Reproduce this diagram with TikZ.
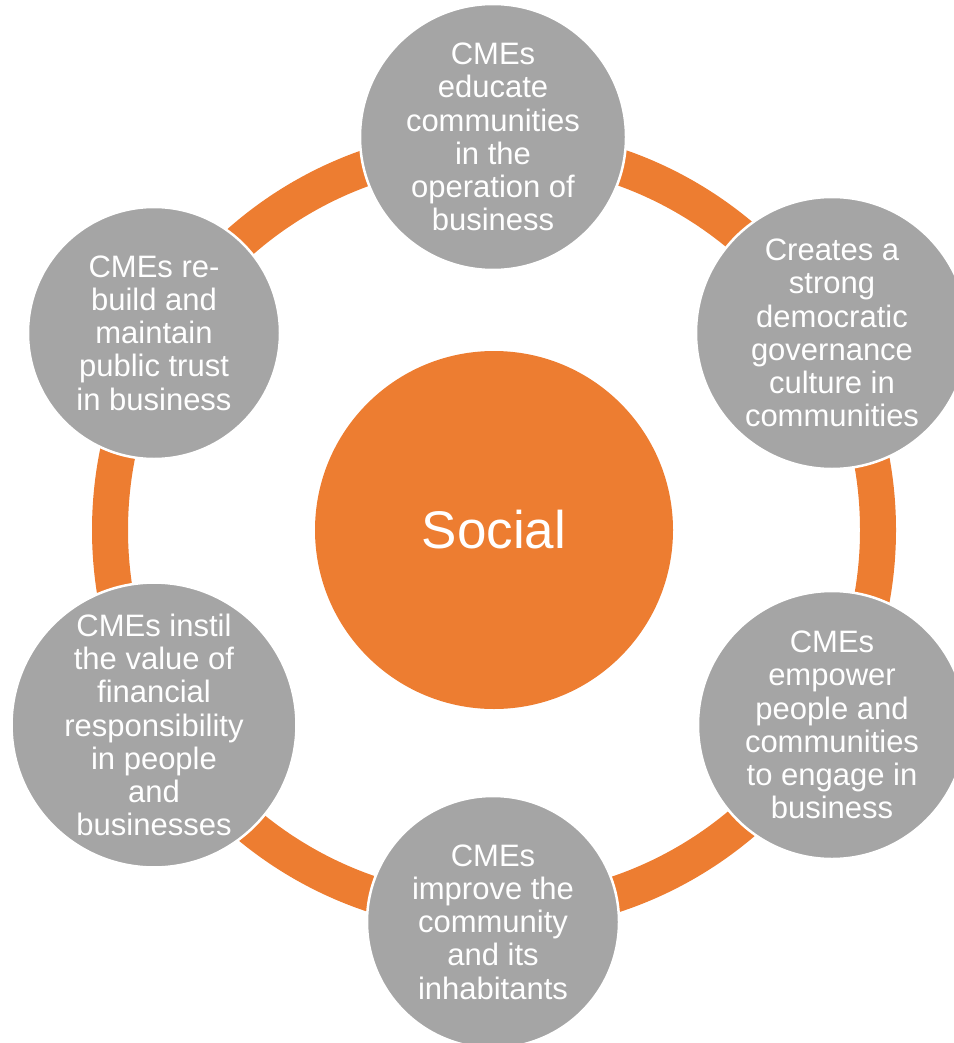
\documentclass[tikz,border=0pt]{standalone}
\usepackage{fontspec}
\setmainfont{Liberation Sans}
\usepackage{xcolor}
\definecolor{ringorange}{HTML}{ED7D31}
\definecolor{satgray}{HTML}{A5A5A5}
\tikzset{
  hub/.style={circle, fill=ringorange, inner sep=0pt, minimum size=358pt,
    text=white, font=\fontsize{53}{60}\selectfont},
  satellite/.style={circle, fill=satgray, draw=white, line width=2.5pt,
    inner sep=0pt, text=white, align=center,
    font=\fontsize{31}{33.3}\selectfont}
}
\begin{document}
\begin{tikzpicture}[x=1pt,y=-1pt]
    \useasboundingbox (0,0) rectangle (953,1043);
    \draw[ringorange, line width=36pt] (494,530) circle (384pt);
    \node[hub] (social) at (494,530) {Social};
    \node[satellite, minimum size=266pt] (educate) at (493,137) {CMEs\\educate\\communities\\in the\\operation of\\business};
    \node[satellite, minimum size=272pt] (governance) at (832,333) {Creates a\\strong\\democratic\\governance\\culture in\\communities};
    \node[satellite, minimum size=268pt] (empower) at (832,725) {CMEs\\empower\\people and\\communities\\to engage in\\business};
    \node[satellite, minimum size=252pt] (improve) at (493,922) {CMEs\\improve the\\community\\and its\\inhabitants};
    \node[satellite, minimum size=278pt] (instil) at (154,725) {CMEs instil\\the value of\\financial\\responsibility\\in people\\and\\businesses};
    \node[satellite, minimum size=252pt] (trust) at (154,333) {CMEs re-\\build and\\maintain\\public trust\\in business};
\end{tikzpicture}
\end{document}
